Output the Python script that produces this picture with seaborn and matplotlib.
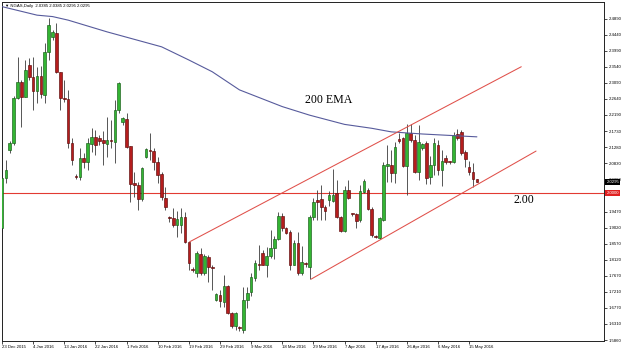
import numpy as np
import pandas as pd
import matplotlib
matplotlib.use("Agg")
import matplotlib.pyplot as plt
import matplotlib.transforms as mtransforms
import seaborn as sns

# ---------------- data ----------------
opens = [1.900, 2.041, 2.120, 2.140, 2.265, 2.312, 2.270, 2.359, 2.326, 2.286,
         2.329, 2.275, 2.396, 2.438, 2.448, 2.338, 2.265, 2.262, 2.139, 2.046,
         2.045, 2.098, 2.087, 2.136, 2.157, 2.155, 2.148, 2.137, 2.149, 2.143,
         2.232, 2.200, 2.206, 2.131, 2.026, 2.022, 1.981, 2.101, 2.120, 2.118,
         2.087, 2.053, 1.984, 1.930, 1.928, 1.909, 1.909, 1.933, 1.862, 1.786,
         1.773, 1.828, 1.775, 1.820, 1.790, 1.699, 1.713, 1.694, 1.738, 1.663,
         1.625, 1.621, 1.614, 1.698, 1.722, 1.759, 1.800, 1.830, 1.797, 1.822,
         1.844, 1.869, 1.935, 1.901, 1.890, 1.797, 1.860, 1.773, 1.801, 1.792,
         1.933, 1.979, 1.981, 1.961, 1.979, 1.978, 2.000, 1.931, 1.893, 2.008,
         1.944, 1.940, 1.923, 2.003, 2.008, 1.953, 1.879, 1.872, 1.923, 2.076,
         2.078, 2.056, 2.150, 2.153, 2.075, 2.167, 2.148, 2.059, 2.125, 2.139,
         2.045, 2.078, 2.134, 2.064, 2.098, 2.088, 2.087, 2.165, 2.171, 2.115,
         2.073, 2.059, 2.0385]
highs = [2.045, 2.092, 2.145, 2.272, 2.382, 2.317, 2.373, 2.379, 2.382, 2.354,
         2.357, 2.420, 2.490, 2.457, 2.476, 2.339, 2.317, 2.289, 2.154, 2.053,
         2.126, 2.112, 2.154, 2.182, 2.176, 2.162, 2.173, 2.214, 2.204, 2.261,
         2.312, 2.214, 2.223, 2.131, 2.059, 2.031, 2.072, 2.126, 2.168, 2.126,
         2.101, 2.059, 2.017, 1.935, 1.956, 1.949, 1.956, 1.947, 1.862, 1.790,
         1.835, 1.844, 1.829, 1.825, 1.797, 1.718, 1.727, 1.769, 1.740, 1.666,
         1.666, 1.624, 1.736, 1.736, 1.774, 1.810, 1.853, 1.839, 1.848, 1.895,
         1.877, 1.947, 1.944, 1.904, 1.895, 1.868, 1.890, 1.850, 1.806, 1.937,
         1.984, 2.008, 2.022, 1.965, 2.004, 2.066, 2.036, 1.934, 2.019, 2.036,
         1.944, 1.942, 2.022, 2.039, 2.013, 1.960, 1.882, 1.933, 2.087, 2.134,
         2.120, 2.143, 2.168, 2.157, 2.193, 2.193, 2.162, 2.190, 2.140, 2.145,
         2.103, 2.153, 2.148, 2.120, 2.107, 2.090, 2.170, 2.180, 2.176, 2.120,
         2.090, 2.083, 2.0385]
lows = [1.890, 2.027, 2.111, 2.134, 2.263, 2.186, 2.269, 2.317, 2.232, 2.252,
        2.265, 2.252, 2.373, 2.429, 2.336, 2.232, 2.255, 2.126, 2.078, 2.038,
        2.036, 2.069, 2.064, 2.115, 2.106, 2.134, 2.078, 2.101, 2.125, 2.083,
        2.223, 2.190, 2.125, 1.975, 1.989, 1.951, 1.978, 2.097, 2.092, 2.064,
        2.026, 1.979, 1.951, 1.918, 1.904, 1.876, 1.886, 1.859, 1.783, 1.778,
        1.764, 1.769, 1.769, 1.750, 1.727, 1.696, 1.680, 1.680, 1.660, 1.619,
        1.615, 1.612, 1.607, 1.675, 1.711, 1.752, 1.783, 1.796, 1.764, 1.816,
        1.814, 1.867, 1.892, 1.883, 1.783, 1.797, 1.770, 1.768, 1.790, 1.757,
        1.923, 1.923, 1.923, 1.923, 1.962, 1.975, 1.929, 1.890, 1.890, 1.981,
        1.935, 1.900, 1.919, 2.000, 1.951, 1.875, 1.872, 1.869, 1.920, 2.031,
        2.030, 2.028, 2.140, 2.073, 1.993, 2.143, 2.055, 2.036, 2.120, 2.025,
        2.025, 2.050, 2.050, 2.020, 2.080, 2.080, 2.083, 2.148, 2.106, 2.073,
        2.050, 2.017, 2.0295]
closes = [2.041, 2.064, 2.140, 2.265, 2.312, 2.270, 2.345, 2.324, 2.286, 2.329,
          2.277, 2.396, 2.471, 2.451, 2.338, 2.265, 2.262, 2.139, 2.092, 2.044,
          2.098, 2.087, 2.139, 2.157, 2.134, 2.145, 2.139, 2.148, 2.144, 2.232,
          2.307, 2.209, 2.128, 2.024, 2.022, 1.981, 2.069, 2.122, 2.117, 2.087,
          2.050, 1.987, 1.961, 1.928, 1.909, 1.925, 1.933, 1.862, 1.803, 1.783,
          1.830, 1.775, 1.822, 1.792, 1.787, 1.715, 1.696, 1.738, 1.663, 1.625,
          1.663, 1.619, 1.698, 1.719, 1.764, 1.803, 1.797, 1.797, 1.822, 1.844,
          1.869, 1.935, 1.900, 1.886, 1.797, 1.860, 1.773, 1.806, 1.799, 1.933,
          1.975, 1.975, 1.961, 1.949, 1.993, 1.994, 1.931, 1.893, 2.008, 1.984,
          1.941, 1.921, 2.005, 2.034, 1.953, 1.881, 1.876, 1.928, 2.078, 2.081,
          2.055, 2.129, 2.146, 2.075, 2.167, 2.148, 2.059, 2.143, 2.136, 2.040,
          2.078, 2.139, 2.064, 2.090, 2.087, 2.086, 2.162, 2.153, 2.112, 2.094,
          2.059, 2.0385, 2.0295]

# 200 EMA, read at a few bars
ema_bars = [0, 9, 13, 17, 27, 41, 48, 54, 61, 72, 79, 88, 95, 100, 108, 122]
ema_vals = [2.523, 2.499, 2.495, 2.485, 2.452, 2.410, 2.373, 2.340, 2.289,
            2.242, 2.218, 2.192, 2.181, 2.171, 2.165, 2.157]

# channel trend lines (bar, price)
upper_bars = [48.2, 133.4]
upper_vals = [1.862, 2.354]
lower_bars = [79.4, 137.2]
lower_vals = [1.757, 2.117]
support_level = 2.00

xtick_bars = [0, 8, 16, 24, 32, 40, 48, 56, 64, 72, 80, 88, 96, 104, 112, 120]
xtick_labels = ["23 Dec 2015", "4 Jan 2016", "13 Jan 2016", "22 Jan 2016",
                "1 Feb 2016", "10 Feb 2016", "19 Feb 2016", "29 Feb 2016",
                "9 Mar 2016", "18 Mar 2016", "29 Mar 2016", "7 Apr 2016",
                "17 Apr 2016", "26 Apr 2016", "6 May 2016", "15 May 2016"]
ytick_vals = [2.4890, 2.4440, 2.3990, 2.3540, 2.3090, 2.2640, 2.2190, 2.1730,
              2.1280, 2.0830, 2.0380, 1.9470, 1.9020, 1.8570, 1.8120, 1.7670,
              1.7210, 1.6770, 1.6310, 1.5860]
title_text = "\u25bc NGAS,Daily  2.0385 2.0385 2.0295 2.0295"
last_price = 2.0295

# ---------------- styling ----------------
sns.set_theme(style="white")
plt.rcParams['font.family'] = ['Liberation Sans', 'DejaVu Sans']

fig = plt.figure(figsize=(6.25, 3.53), dpi=100)
fig.patch.set_facecolor("white")
W, H = 625.0, 353.0
ax = fig.add_axes([2 / W, 1 - 341 / H, (604 - 2) / W, (341 - 2) / H])
ax.set_facecolor("white")

df = pd.DataFrame({"open": opens, "high": highs, "low": lows, "close": closes})
df["bar"] = np.arange(len(df))
df["bull"] = df["close"] >= df["open"]

bull_fill, bull_edge = "#33b533", "#175c17"
bear_fill, bear_edge = "#b51d1d", "#5c0a0a"

# wicks
ax.vlines(df["bar"], df["low"], df["high"], color="#3a3a3a", lw=0.6, zorder=2)
# bodies
body_bottom = df[["open", "close"]].min(axis=1)
body_h = (df["close"] - df["open"]).abs().clip(lower=0.0025)
ax.bar(df["bar"], body_h, bottom=body_bottom, width=0.68,
       color=np.where(df["bull"], bull_fill, bear_fill),
       edgecolor=np.where(df["bull"], bull_edge, bear_edge),
       linewidth=0.45, zorder=3)

# EMA and trend lines through seaborn
sns.lineplot(x=ema_bars, y=ema_vals, ax=ax, color="#575b9c", lw=0.8, zorder=4)
sns.lineplot(x=upper_bars, y=upper_vals, ax=ax, color="#e0504a", lw=0.75, zorder=4)
sns.lineplot(x=lower_bars, y=lower_vals, ax=ax, color="#e0504a", lw=0.75, zorder=4)
ax.axhline(support_level, color="#e23a32", lw=0.8, zorder=1)

ax.text(77.9, 2.2605, "200 EMA", family="Liberation Serif", fontsize=8.6,
        va="center", ha="left", color="black")
ax.text(131.3, 1.979, "2.00", family="Liberation Serif", fontsize=8.6,
        va="center", ha="left", color="black")

ax.set_xlim((2 - 1.54) / 3.8955, (604 - 1.54) / 3.8955)
ax.set_ylim(2.0 - (341 - 192.7) / 355.8, 2.0 + (192.7 - 2) / 355.8)

ax.set_xticks(xtick_bars)
ax.set_xticklabels(xtick_labels, ha="left")
ax.yaxis.tick_right()
ax.set_yticks(ytick_vals)
ax.set_yticklabels([f"{v:.4f}" for v in ytick_vals])
ax.tick_params(axis="x", direction="out", length=2, width=0.5, pad=1,
               labelsize=3.1, colors="black", bottom=True)
ax.tick_params(axis="y", direction="out", length=2, width=0.5, pad=1.2,
               labelsize=3.1, colors="black", right=True, left=False)
for lbl in ax.get_xticklabels():
    lbl.set_x(0)
for s in ax.spines.values():
    s.set_color("#222222")
    s.set_linewidth(0.7)
ax.set_xlabel("")
ax.set_ylabel("")

# price boxes on the right scale
trans = mtransforms.blended_transform_factory(ax.transAxes, ax.transData)
ax.text(1.004, last_price, f"{last_price:.4f}", transform=trans, fontsize=3.1,
        color="white", va="center", ha="left", clip_on=False, zorder=6,
        bbox=dict(boxstyle="square,pad=0.25", fc="black", ec="black", lw=0))
ax.text(1.004, support_level, f"{support_level:.4f}", transform=trans, fontsize=3.1,
        color="white", va="center", ha="left", clip_on=False, zorder=6,
        bbox=dict(boxstyle="square,pad=0.25", fc="#e02020", ec="#e02020", lw=0))

fig.text(5 / W, 1 - 6 / H, title_text, fontsize=3.1, va="center", ha="left",
         color="black")

fig.savefig("out.png", dpi=100, facecolor="white")
